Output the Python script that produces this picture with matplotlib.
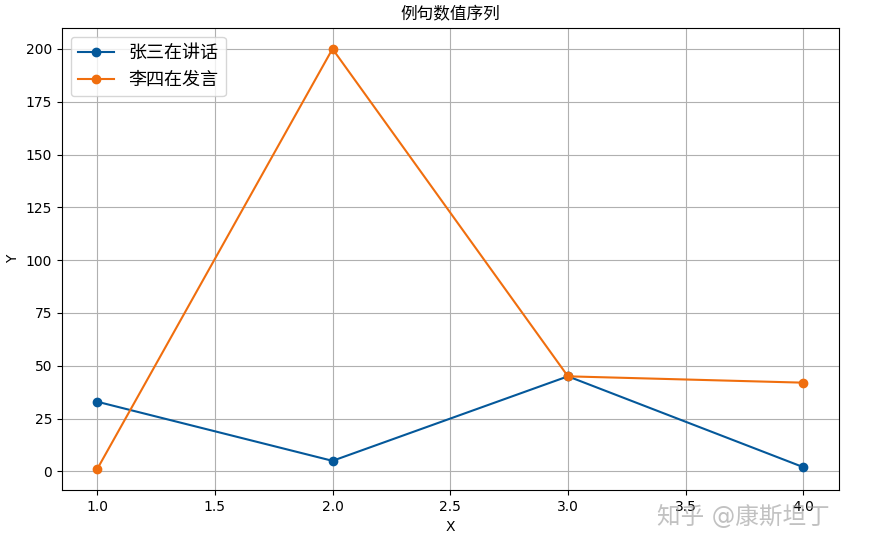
import matplotlib.pyplot as plt

plt.rcParams['font.family'] = ['DejaVu Sans', 'Noto Sans CJK SC']

x = [1, 2, 3, 4]
zhang = [33, 5, 45, 2]
li = [1, 200, 45, 42]

fig = plt.figure(figsize=(8.7, 5.46), dpi=100)
ax = fig.add_axes([0.071, 0.102, 0.893, 0.847])
ax.plot(x, zhang, marker="o", color="#04589a", label="张三在讲话")
ax.plot(x, li, marker="o", color="#f06e0e", label="李四在发言")
ax.set_title("例句数值序列", fontsize=12)
ax.set_xlabel("X")
ax.set_ylabel("Y")
ax.grid()
ax.legend(loc="upper left", fontsize=13)
# watermark from the source image
fig.text(0.755, 0.04, "知乎 @康斯坦丁", fontsize=17, color="#999999", alpha=0.6)
fig.savefig("out.png")
